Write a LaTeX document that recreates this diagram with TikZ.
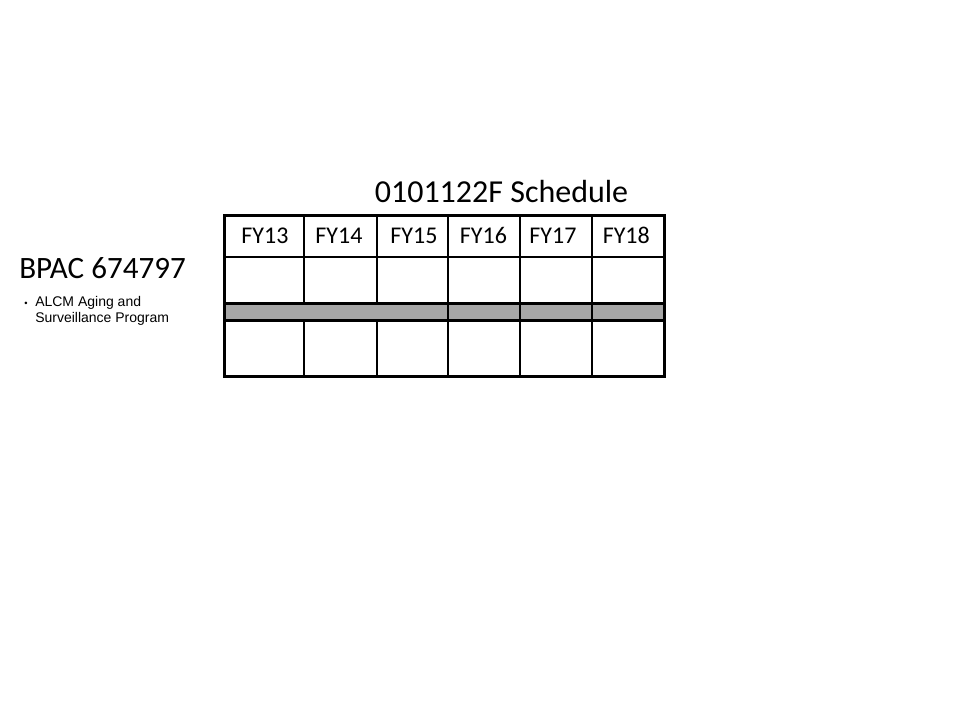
\documentclass[tikz,border=0pt]{standalone}
\usepackage{fontspec}
\setmainfont{Carlito}
\newfontfamily\arialfont{Liberation Sans}
\begin{document}
\begin{tikzpicture}[x=0.75pt,y=-0.75pt,
  hdr/.style={anchor=base,inner sep=0pt,font=\fontsize{18}{20}\selectfont},
  ttl/.style={anchor=base,inner sep=0pt,font=\fontsize{24}{28}\selectfont},
  frame/.style={line width=2.25pt},
  col/.style={line width=1.5pt},
  thin/.style={line width=0.9pt}]
\useasboundingbox (0,0) rectangle (960,720);
\fill[white] (0,0) rectangle (960,720);
% gray band
\fill[fill={rgb,255:red,166;green,166;blue,166}] (224,304) rectangle (664,320);
% header underline
\draw[thin] (224,257) -- (664,257);
% column lines
\foreach \x in {304,377} {
  \draw[col] (\x,216) -- (\x,304);
  \draw[col] (\x,320) -- (\x,376);
}
\foreach \x in {448,520,592} {
  \draw[col] (\x,216) -- (\x,376);
}
% band lines
\draw[frame] (224,304) -- (664,304);
\draw[frame] (224,320) -- (664,320);
% frame
\draw[frame] (224,216) rectangle (664,376);
% texts
\node[ttl] (title) at (501.5,203) {0101122F Schedule};
\node[hdr] (fy13) at (265,244) {FY13};
\node[hdr] (fy14) at (339,244) {FY14};
\node[hdr] (fy15) at (414,244) {FY15};
\node[hdr] (fy16) at (483.5,244) {FY16};
\node[hdr] (fy17) at (553,244) {FY17};
\node[hdr] (fy18) at (626.3,244) {FY18};
\node[anchor=base west,inner sep=0pt,font=\fontsize{23.3}{28}\selectfont] (bpac) at (19,279) {BPAC 674797};
\node[anchor=base,inner sep=0pt,font=\arialfont\fontsize{7}{8}\selectfont] (bul) at (26,306.7) {•};
\node[anchor=base west,inner sep=0pt,font=\arialfont\fontsize{10.5}{12}\selectfont] (it1) at (35,306.7) {ALCM Aging and};
\node[anchor=base west,inner sep=0pt,font=\arialfont\fontsize{10.5}{12}\selectfont] (it2) at (35,322.7) {Surveillance Program};
\end{tikzpicture}
\end{document}
